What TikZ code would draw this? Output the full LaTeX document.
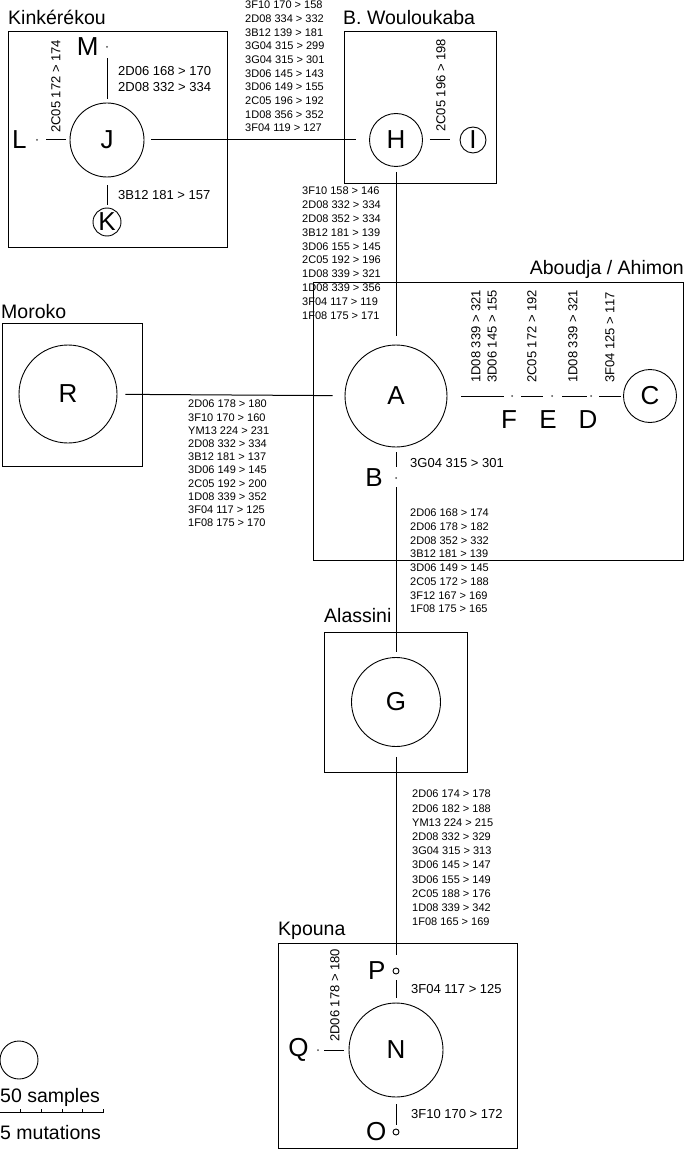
\documentclass[tikz,border=0pt]{standalone}
\usepackage{fontspec}
\setmainfont{Liberation Sans}
\usetikzlibrary{positioning}

\tikzset{
  hap/.style={shape=circle, draw=black, line width=0.9pt, inner sep=0pt, minimum size=#1, font=\fontsize{26}{26}\selectfont},
  vec/.style={shape=circle, fill=black!70, inner sep=0pt, minimum size=2pt},
  tag/.style={inner sep=0pt, font=\fontsize{26}{26}\selectfont},
  place/.style={inner sep=0pt, font=\fontsize{19.5}{22}\selectfont},
  mut/.style={inner sep=0pt, align=left, font=\fontsize{11}{#1}\selectfont},
  mut/.default=13.7,
  mutbig/.style={inner sep=0pt, align=left, font=\fontsize{13}{16.3}\selectfont},
  box/.style={line width=1pt},
  link/.style 2 args={line width=1pt, shorten <=#1, shorten >=#2},
}

\begin{document}
\begin{tikzpicture}[x=1pt, y=-1pt]
    \useasboundingbox (0,0) rectangle (685,1150);

    % sampling sites
    \draw[box] (8,32) rectangle (227,248);
    \draw[box] (344,32) rectangle (496,184);
    \draw[box] (313,282) rectangle (683,560);
    \draw[box] (2,323) rectangle (142,466);
    \draw[box] (324,632) rectangle (467,772);
    \draw[box] (278,943) rectangle (517,1148.5);

    \node[place, anchor=base west] (kink) at (8,25) {Kinkérékou};
    \node[place, anchor=base west] (woul) at (343,25) {B. Wouloukaba};
    \node[place, anchor=base east] (abou) at (684,274) {Aboudja / Ahimon};
    \node[place, anchor=base west] (moro) at (1,318) {Moroko};
    \node[place, anchor=base west] (alas) at (324,622) {Alassini};
    \node[place, anchor=base west] (kpou) at (278,935) {Kpouna};

    % haplotypes
    \node[hap=74] (J) at (107,140) {J};
    \node[vec] (M) at (107,47) {};
    \node[vec] (L) at (37,140) {};
    \node[hap=28] (K) at (107,222) {K};
    \node[hap=53] (H) at (396,140) {H};
    \node[hap=26] (I) at (473,140) {I};
    \node[hap=102] (A) at (396,396) {A};
    \node[vec] (F) at (512,396) {};
    \node[vec] (E) at (552,396) {};
    \node[vec] (D) at (591,396) {};
    \node[hap=53] (C) at (650,396) {C};
    \node[vec] (B) at (396,478) {};
    \node[hap=98] (R) at (68,394) {R};
    \node[hap=89] (G) at (396,702) {G};
    \node[hap=6] (P) at (396,971) {};
    \node[hap=94] (N) at (396,1050) {N};
    \node[hap=6] (O) at (396,1132) {};
    \node[vec] (Q) at (318,1050) {};

    \node[tag, left=7pt of M] (Mt) {M};
    \node[tag, left=9pt of L] (Lt) {L};
    \node[tag, below=13pt of F, xshift=-3pt] (Ft) {F};
    \node[tag, below=13pt of E, xshift=-4pt] (Et) {E};
    \node[tag, below=13pt of D, xshift=-3pt] (Dt) {D};
    \node[tag, left=12pt of B] (Bt) {B};
    \node[tag, left=7pt of P] (Pt) {P};
    \node[tag, left=6pt of O] (Ot) {O};
    \node[tag, left=8pt of Q] (Qt) {Q};

    % network
    \draw[link={4pt}{10pt}] (J) -- (M);
    \draw[link={4pt}{8pt}] (J) -- (L);
    \draw[link={8pt}{3pt}] (J) -- (K);
    \draw[link={7pt}{13pt}] (J) -- (H);
    \draw[link={7pt}{10pt}] (H) -- (I);
    \draw[link={5pt}{9pt}] (H) -- (A);
    \draw[link={14pt}{7pt}] (A) -- (F);
    \draw[link={8pt}{8pt}] (F) -- (E);
    \draw[link={9pt}{3pt}] (E) -- (D);
    \draw[link={7pt}{2pt}] (D) -- (C);
    \draw[link={5pt}{10pt}] (A) -- (B);
    \draw[link={8pt}{5pt}] (B) -- (G);
    \draw[link={8pt}{12pt}] (R) -- (A);
    \draw[link={10pt}{13pt}] (G) -- (P);
    \draw[link={6pt}{5pt}] (P) -- (N);
    \draw[link={7pt}{4pt}] (N) -- (O);
    \draw[link={5pt}{5pt}] (N) -- (Q);

    % mutations
    \node[mutbig, anchor=north west] (mJM) at (118,66.3) {2D06 168 > 170\\2D08 332 > 334};
    \node[mutbig, anchor=west] (mJK) at (118,195) {3B12 181 > 157};
    \node[mutbig, rotate=90, anchor=west] (mJL) at (56,133) {2C05 172 > 174};
    \node[mutbig, rotate=90, anchor=west] (mHI) at (441,132) {2C05 196 > 198};
    \node[mutbig, rotate=90, anchor=west] (mAF) at (484,383) {1D08 339 > 321\\3D06 145 > 155};
    \node[mutbig, rotate=90, anchor=west] (mFE) at (532,383) {2C05 172 > 192};
    \node[mutbig, rotate=90, anchor=west] (mED) at (573,383) {1D08 339 > 321};
    \node[mutbig, rotate=90, anchor=west] (mDC) at (610,383) {3F04 125 > 117};
    \node[mutbig, anchor=west] (mAB) at (410,463) {3G04 315 > 301};
    \node[mutbig, anchor=west] (mPN) at (411,989) {3F04 117 > 125};
    \node[mutbig, anchor=west] (mNO) at (411,1114) {3F10 170 > 172};
    \node[mutbig, rotate=90, anchor=west] (mNQ) at (335,1042) {2D06 178 > 180};

    \node[mut=13.65, anchor=north west] (mJH) at (245,1) {3F10 170 > 158\\2D08 334 > 332\\3B12 139 > 181\\3G04 315 > 299\\3G04 315 > 301\\3D06 145 > 143\\3D06 149 > 155\\2C05 196 > 192\\1D08 356 > 352\\3F04 119 > 127};
    \node[mut=13.8, anchor=north west] (mHA) at (302,187) {3F10 158 > 146\\2D08 332 > 334\\2D08 352 > 334\\3B12 181 > 139\\3D06 155 > 145\\2C05 192 > 196\\1D08 339 > 321\\1D08 339 > 356\\3F04 117 > 119\\1F08 175 > 171};
    \node[mut=13.2, anchor=north west] (mRA) at (188,400) {2D06 178 > 180\\3F10 170 > 160\\YM13 224 > 231\\2D08 332 > 334\\3B12 181 > 137\\3D06 149 > 145\\2C05 192 > 200\\1D08 339 > 352\\3F04 117 > 125\\1F08 175 > 170};
    \node[mut=13.7, anchor=north west] (mBG) at (410,509) {2D06 168 > 174\\2D06 178 > 182\\2D08 352 > 332\\3B12 181 > 139\\3D06 149 > 145\\2C05 172 > 188\\3F12 167 > 169\\1F08 175 > 165};
    \node[mut=14.2, anchor=north west] (mGP) at (412,790) {2D06 174 > 178\\2D06 182 > 188\\YM13 224 > 215\\2D08 332 > 329\\3G04 315 > 313\\3D06 145 > 147\\3D06 155 > 149\\2C05 188 > 176\\1D08 339 > 342\\1F08 165 > 169};

    % legend
    \node[hap=38] (leg) at (19,1060) {};
    \node[place, anchor=base west] (legs) at (0,1102) {50 samples};
    \draw[link={0pt}{0pt}] (0,1112) -- (103.5,1112);
    \foreach \t in {1,...,5}
        \draw[line width=0.8pt] (\t*20.7,1112) -- ++(0,-3);
    \node[place, anchor=base west] (legm) at (0,1139) {5 mutations};

\end{tikzpicture}
\end{document}
